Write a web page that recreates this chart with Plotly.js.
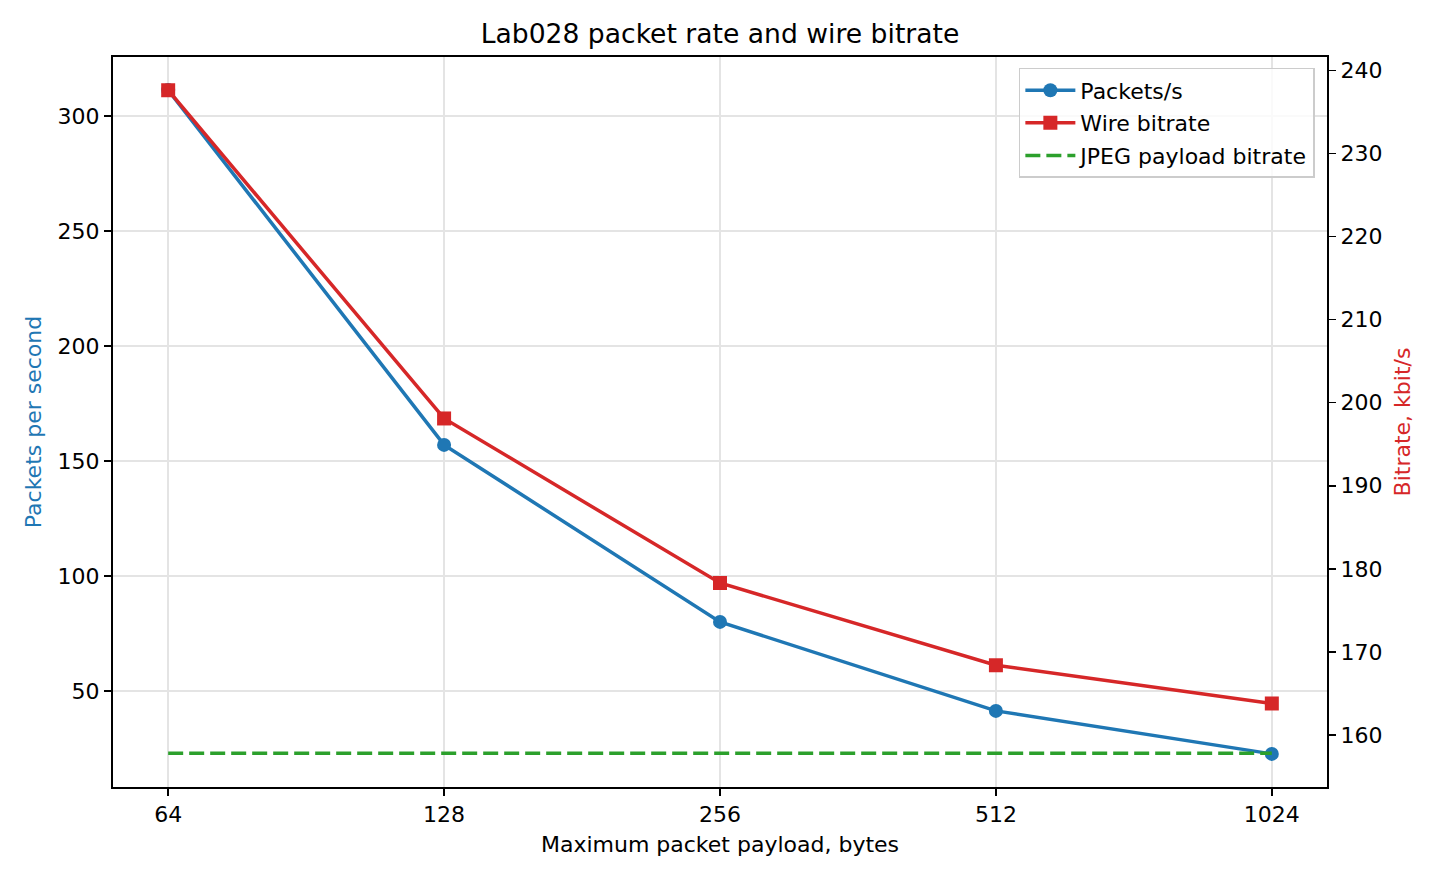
<!DOCTYPE html>
<html>
<head>
<meta charset="utf-8">
<script src="https://cdn.plot.ly/plotly-3.0.1.min.js"></script>
<style>
  html, body { margin: 0; padding: 0; background: #fff; }
  #chart { width: 1440px; height: 880px; }
</style>
</head>
<body>
<div id="chart"></div>
<script>
// payload sizes (bytes) and measured values
var payloadSizes = [64, 128, 256, 512, 1024];
var tickLabels = ['64', '128', '256', '512', '1024'];
var packetsPerSec = [311.3, 157.0, 80.0, 41.3, 22.6];
var wireKbps = [237.6, 198.1, 178.3, 168.4, 163.8];
var jpegKbps = [157.8, 157.8, 157.8, 157.8, 157.8];

var font = 'DejaVu Sans, Liberation Sans, sans-serif';
var gridColor = '#e4e4e4';
var fs = 22;

var tracePackets = {
    x: payloadSizes,
    y: packetsPerSec,
    name: 'Packets/s',
    legendgroup: 'a',
    mode: 'lines+markers',
    type: 'scatter',
    line: { color: '#1f77b4', width: 3.5 },
    marker: { symbol: 'circle', size: 14, color: '#1f77b4' }
};

var traceWire = {
    x: payloadSizes,
    y: wireKbps,
    name: 'Wire bitrate',
    legendgroup: 'b',
    yaxis: 'y2',
    mode: 'lines+markers',
    type: 'scatter',
    line: { color: '#d62728', width: 3.5 },
    marker: { symbol: 'square', size: 14, color: '#d62728' }
};

var traceJpeg = {
    x: payloadSizes,
    y: jpegKbps,
    name: 'JPEG payload bitrate',
    legendgroup: 'c',
    yaxis: 'y2',
    mode: 'lines',
    type: 'scatter',
    line: { color: '#2ca02c', width: 3.5, dash: '15px,6px' }
};

var layout = {
    width: 1440,
    height: 880,
    paper_bgcolor: '#fff',
    plot_bgcolor: '#fff',
    font: { family: font, size: fs, color: '#000' },
    margin: { l: 113, r: 113, t: 57, b: 93 },
    title: {
        text: 'Lab028 packet rate and wire bitrate',
        font: { family: font, size: 26.6, color: '#000' },
        x: 0.5, xanchor: 'center',
        y: 1 - 34 / 880, yanchor: 'middle'
    },
    showlegend: true,
    legend: {
        x: 0.99, xanchor: 'right',
        y: 0.985, yanchor: 'top',
        bgcolor: 'rgba(255,255,255,0.8)',
        bordercolor: '#cccccc',
        borderwidth: 1.5,
        font: { family: font, size: fs },
        itemwidth: 50,
        tracegroupgap: 1
    },
    xaxis: {
        type: 'log',
        range: [Math.log10(Math.pow(2, 5.8)), Math.log10(Math.pow(2, 10.2))],
        tickvals: payloadSizes,
        ticktext: tickLabels,
        showgrid: true,
        gridcolor: gridColor,
        gridwidth: 1.5,
        zeroline: false,
        showline: true,
        linecolor: '#000',
        linewidth: 2,
        mirror: true,
        ticks: 'outside',
        ticklen: 7,
        tickwidth: 1.6,
        tickcolor: '#000',
        title: { text: 'Maximum packet payload, bytes', font: { family: font, size: fs }, standoff: 10 }
    },
    yaxis: {
        range: [8.2, 325.7],
        tickvals: [50, 100, 150, 200, 250, 300],
        showgrid: true,
        gridcolor: gridColor,
        gridwidth: 1.5,
        zeroline: false,
        showline: true,
        linecolor: '#000',
        linewidth: 2,
        ticks: 'outside',
        ticklen: 7,
        tickwidth: 1.6,
        tickcolor: '#000',
        title: { text: 'Packets per second', font: { family: font, size: fs, color: '#1f77b4' }, standoff: 10 }
    },
    yaxis2: {
        overlaying: 'y',
        side: 'right',
        range: [153.75, 241.6],
        tickvals: [160, 170, 180, 190, 200, 210, 220, 230, 240],
        showgrid: false,
        zeroline: false,
        showline: true,
        linecolor: '#000',
        linewidth: 2,
        ticks: 'outside',
        ticklen: 7,
        tickwidth: 1.6,
        tickcolor: '#000',
        title: { text: 'Bitrate, kbit/s', font: { family: font, size: fs, color: '#d62728' }, standoff: 13 }
    }
};

Plotly.newPlot('chart', [tracePackets, traceWire, traceJpeg], layout, { displayModeBar: false, staticPlot: true });
</script>
</body>
</html>
